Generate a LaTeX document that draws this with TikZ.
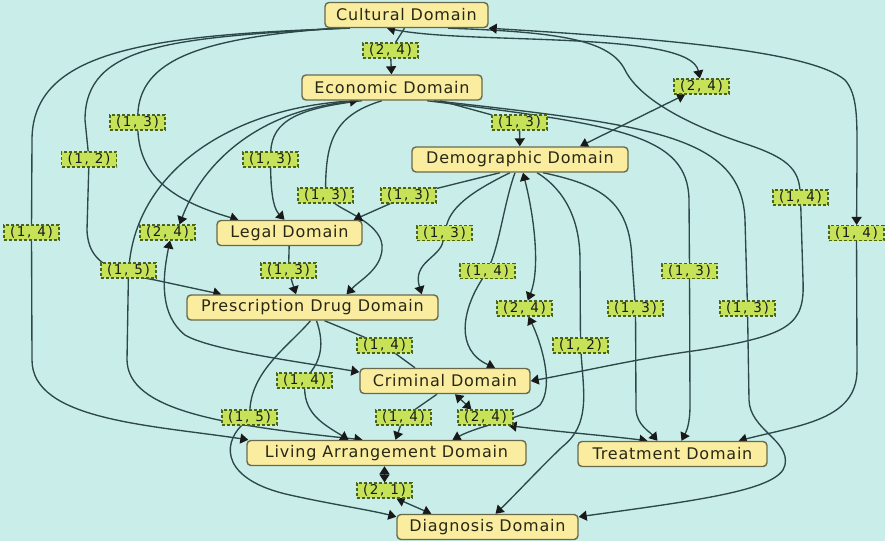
\documentclass[tikz,border=0pt]{standalone}
\usepackage{fontspec}
\setmainfont{DejaVu Sans}
\newfontfamily\domfont[LetterSpace=5]{DejaVu Sans}
\newfontfamily\pairfont[LetterSpace=12]{DejaVu Sans}
\usetikzlibrary{arrows.meta,calc}

\definecolor{bgc}{RGB}{201,238,234}
\definecolor{domfill}{RGB}{250,237,160}
\definecolor{domline}{RGB}{105,105,75}
\definecolor{domtext}{RGB}{40,40,22}
\definecolor{pairfill}{RGB}{198,226,88}
\definecolor{pairline}{RGB}{75,100,25}
\definecolor{wirec}{RGB}{45,72,72}

\pgfdeclarelayer{back}
\pgfdeclarelayer{wires}
\pgfsetlayers{back,wires,main}

\begin{document}
\begin{tikzpicture}[x=1pt,y=-1pt,
  dombox/.style={draw=domline, line width=1.4pt, fill=domfill, rounded corners=4pt,
    minimum height=25pt, inner sep=0pt, text=domtext,
    font=\domfont\fontsize{16}{19}\selectfont},
  pairtag/.style={draw=pairline, dash pattern=on 3pt off 2pt, line width=1.1pt,
    fill=pairfill, minimum width=55pt, minimum height=15pt, inner sep=0pt,
    text=black!90, font=\pairfont\fontsize{13.5}{15}\selectfont},
  edgeline/.style={draw=wirec, line width=1.35pt},
  >={Triangle[length=8pt,width=10pt,color=black!90]}]

\useasboundingbox (0,0) rectangle (885,541);
\begin{pgfonlayer}{back}
  \fill[bgc] (0,0) rectangle (885,541);
\end{pgfonlayer}

% domains
\node[dombox, minimum width=163] (cult)   at (406.5,15)  {Cultural Domain};
\node[dombox, minimum width=180] (econ)   at (392,87.5)  {Economic Domain};
\node[dombox, minimum width=216] (demo)   at (520,159.5) {Demographic Domain};
\node[dombox, minimum width=145] (legal)  at (289.5,233) {Legal Domain};
\node[dombox, minimum width=251] (presc)  at (312.5,307.5) {Prescription Drug Domain};
\node[dombox, minimum width=170] (crim)   at (445,381)   {Criminal Domain};
\node[dombox, minimum width=279] (living) at (386.5,453) {Living Arrangement Domain};
\node[dombox, minimum width=189] (treat)  at (672.5,454) {Treatment Domain};
\node[dombox, minimum width=181] (diag)   at (487.5,527) {Diagnosis Domain};

% pair tags
\node[pairtag] (L1)  at (390.5,50.5)  {(2, 4)};
\node[pairtag] (L2)  at (701.5,86.5)  {(2, 4)};
\node[pairtag] (L3)  at (137.5,122.5) {(1, 3)};
\node[pairtag] (L4)  at (519.5,122.5) {(1, 3)};
\node[pairtag] (L5)  at (89,159.5)    {(1, 2)};
\node[pairtag] (L6)  at (270.5,159.5) {(1, 3)};
\node[pairtag] (L7)  at (325.5,195.5) {(1, 3)};
\node[pairtag] (L8)  at (408.5,195.5) {(1, 3)};
\node[pairtag] (L9)  at (800.5,197.5) {(1, 4)};
\node[pairtag] (L10) at (31.5,232.5)  {(1, 4)};
\node[pairtag] (L11) at (167.5,232.5) {(2, 4)};
\node[pairtag] (L12) at (444.5,233)   {(1, 3)};
\node[pairtag] (L13) at (856.5,233)   {(1, 4)};
\node[pairtag] (L14) at (128.5,270.5) {(1, 5)};
\node[pairtag] (L15) at (288.5,270.5) {(1, 3)};
\node[pairtag] (L16) at (487.5,271)   {(1, 4)};
\node[pairtag] (L17) at (689.5,271)   {(1, 3)};
\node[pairtag] (L18) at (524.5,308.5) {(2, 4)};
\node[pairtag] (L19) at (635.5,308.5) {(1, 3)};
\node[pairtag] (L20) at (747.5,308.5) {(1, 3)};
\node[pairtag] (L21) at (384.5,345.5) {(1, 4)};
\node[pairtag] (L22) at (580.5,345.5) {(1, 2)};
\node[pairtag] (L23) at (304.5,380.5) {(1, 4)};
\node[pairtag] (L24) at (249.5,417.5) {(1, 5)};
\node[pairtag] (L25) at (403.5,417.5) {(1, 4)};
\node[pairtag] (L26) at (485.5,417.5) {(2, 4)};
\node[pairtag] (L27) at (384.5,490.5) {(2, 1)};

\begin{pgfonlayer}{wires}
% Cultural -> Economic
\draw[edgeline] ([xshift=-2pt]cult.south) -- (L1);
\draw[edgeline,->] (L1) -- (econ);
% Cultural <-> Demographic
\draw[edgeline,<->] ([xshift=-19.5pt]cult.south) .. controls (470,45) and (690,30) .. (L2);
\draw[edgeline,<->] (L2) -- ([xshift=60pt]demo.north);
% Cultural -> Living Arrangement
\draw[edgeline] ([xshift=-56.5pt]cult.south) .. controls (150,35) and (32,50) .. (32,140) -- (L10);
\draw[edgeline,->] (L10) -- (32,360) .. controls (32,420) and (150,425) .. ([xshift=2pt]living.north west);
% Cultural -> Prescription Drug
\draw[edgeline] ([xshift=-63.5pt]cult.south) .. controls (170,38) and (85,45) .. (85,120) -- (L5);
\draw[edgeline,->] (L5) -- (87,230) .. controls (88,262) and (110,272) .. (155,280) -- ([xshift=35pt]presc.north west);
% Cultural -> Legal
\draw[edgeline] ([xshift=-70.5pt]cult.south) .. controls (200,38) and (140,60) .. (L3);
\draw[edgeline,->] (L3) .. controls (140,175) and (170,200) .. ([xshift=22pt]legal.north west);
% Cultural -> Criminal
\draw[edgeline] ([xshift=41.5pt]cult.south) .. controls (560,32) and (610,40) .. (625,70)
  .. controls (640,100) and (690,125) .. (740,142) .. controls (780,155) and (798,165) .. (L9);
\draw[edgeline,->] (L9) -- (803,280) .. controls (805,325) and (790,335) .. (700,350)
  .. controls (640,358) and (580,372) .. (crim.east);
% Cultural <-> Treatment
\draw[edgeline,<->] (cult.south east) .. controls (650,38) and (810,50) .. (845,80)
  .. controls (858,95) and (857,120) .. (857,160) -- (L13);
\draw[edgeline,->] (L13) -- (857,370) .. controls (857,420) and (800,425) .. ([xshift=-29pt]treat.north east);

% Economic -> Legal
\draw[edgeline] ([xshift=-30pt]econ.south) .. controls (300,108) and (272,120) .. (L6);
\draw[edgeline,->] (L6) .. controls (271,200) and (275,210) .. ([xshift=-5pt]legal.north);
% Economic -> Prescription Drug
\draw[edgeline] ([xshift=-10pt]econ.south) .. controls (335,115) and (326,140) .. (L7);
\draw[edgeline,->] (L7) .. controls (345,212) and (385,225) .. (382,250)
  .. controls (380,270) and (360,280) .. ([xshift=34pt]presc.north);
% Economic -> Demographic
\draw[edgeline] ([xshift=48pt]econ.south) -- (L4);
\draw[edgeline,->] (L4) -- (demo);
% Economic <-> Criminal
\draw[edgeline,<->] ([xshift=-34pt]econ.south) .. controls (250,112) and (200,170) .. ([xshift=12pt]L11.north);
\draw[edgeline,<->] ([xshift=2.5pt]L11.south) .. controls (162,280) and (160,315) .. (185,335)
  .. controls (210,350) and (300,362) .. ([yshift=9pt]crim.west);
% Economic -> Living Arrangement
\draw[edgeline] ([xshift=-34pt]econ.south) .. controls (240,105) and (140,165) .. (L14);
\draw[edgeline,->] (L14) -- (127,360) .. controls (128,410) and (220,425) .. ([xshift=-24pt]living.north);
% Economic -> Treatment
\draw[edgeline] ([xshift=35pt]econ.south) .. controls (620,125) and (688,135) .. (689,200) -- (L17);
\draw[edgeline,->] (L17) -- (690,405) .. controls (690,425) and (686,432) .. ([xshift=9pt]treat.north);
% Economic -> Diagnosis
\draw[edgeline] ([xshift=42pt]econ.south) .. controls (650,125) and (742,135) .. (745,220) -- (L20);
\draw[edgeline,->] (L20) -- (749,400) .. controls (750,430) and (790,440) .. (785,465)
  .. controls (780,490) and (700,500) .. ([yshift=-3pt]diag.north east);

% Legal -> Prescription Drug
\draw[edgeline] (legal) -- (L15);
\draw[edgeline,->] (L15) -- ([xshift=-16.5pt]presc.north);

% Demographic -> Legal
\draw[edgeline] ([xshift=-20pt]demo.south) -- (L8);
\draw[edgeline,->] (L8) -- ([xshift=-9pt]legal.north east);
% Demographic -> Prescription Drug
\draw[edgeline] ([xshift=-10pt]demo.south) .. controls (475,190) and (452,205) .. (L12);
\draw[edgeline,->] (L12) .. controls (440,258) and (412,262) .. ([xshift=-17pt]presc.north east);
% Demographic -> Criminal
\draw[edgeline] ([xshift=-5pt]demo.south) .. controls (505,200) and (500,240) .. (L16);
\draw[edgeline,->] (L16) .. controls (462,310) and (455,350) .. ([xshift=50pt]crim.north);
% Demographic <-> Living Arrangement
\draw[edgeline,<->] ([xshift=3pt]demo.south) .. controls (535,220) and (540,270) .. (L18);
\draw[edgeline,<->] (L18) .. controls (540,340) and (555,385) .. (540,405)
  .. controls (525,418) and (480,425) .. ([xshift=66pt]living.north);
% Demographic -> Diagnosis
\draw[edgeline] ([xshift=17pt]demo.south) .. controls (565,190) and (580,220) .. (580,260) -- (L22);
\draw[edgeline,->] (L22) .. controls (584,395) and (590,425) .. (562,447)
  .. controls (540,468) and (515,495) .. ([xshift=8pt]diag.north);
% Demographic -> Treatment
\draw[edgeline] ([xshift=23pt]demo.south) .. controls (600,185) and (630,200) .. (632,260) -- (L19);
\draw[edgeline,->] (L19) -- (636,410) .. controls (637,425) and (650,432) .. ([xshift=-15pt]treat.north);

% Prescription Drug -> Criminal
\draw[edgeline] ([xshift=12pt]presc.south) -- (L21);
\draw[edgeline] (L21) -- ([xshift=-30pt]crim.north);
% Prescription Drug -> Living Arrangement
\draw[edgeline] ([xshift=4pt]presc.south) .. controls (325,345) and (320,360) .. (L23);
\draw[edgeline,->] (L23) .. controls (305,415) and (325,425) .. ([xshift=-38pt]living.north);
% Prescription Drug -> Diagnosis
\draw[edgeline] ([xshift=-2pt]presc.south) .. controls (290,345) and (252,370) .. (L24);
\draw[edgeline,->] (L24) .. controls (222,445) and (222,480) .. (290,495)
  .. controls (330,504) and (370,510) .. ([yshift=-3pt]diag.north west);

% Criminal -> Living Arrangement
\draw[edgeline] ([xshift=-8pt]crim.south) -- (L25);
\draw[edgeline,->] (L25) -- ([xshift=9pt]living.north);
% Criminal <-> Treatment
\draw[edgeline,<->] ([xshift=10pt]crim.south) -- ([xshift=-14pt]L26.north);
\draw[edgeline,<->] ([xshift=-5pt]L26.south east) .. controls (560,432) and (610,436) .. ([xshift=-25pt]treat.north);

% Living Arrangement <-> Diagnosis
\draw[edgeline,<->] ([xshift=-2pt]living.south) -- (L27);
\draw[edgeline,<->] ([xshift=12pt]L27.south) -- ([xshift=35pt]diag.north west);
\end{pgfonlayer}
\end{tikzpicture}
\end{document}
